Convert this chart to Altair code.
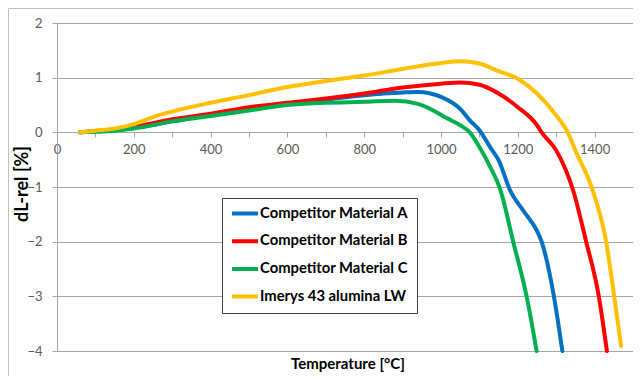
import altair as alt
import pandas as pd

names = ["Competitor Material A", "Competitor Material B", "Competitor Material C", "Imerys 43 alumina LW"]
colors = ["#0070C0", "#FF0000", "#00B050", "#FFC000"]

T_A = [60, 100, 150, 200, 300, 400, 500, 600, 700, 800, 900, 940, 1000, 1050, 1075, 1100, 1128, 1150, 1180, 1214, 1249, 1262, 1294, 1316]
V_A = [0, 0.02, 0.04, 0.08, 0.2, 0.32, 0.42, 0.52, 0.6, 0.68, 0.73, 0.74, 0.65, 0.43, 0.22, 0.04, -0.27, -0.51, -1.06, -1.43, -1.79, -2.0, -3.0, -4.0]

T_B = [60, 100, 150, 200, 300, 400, 500, 600, 700, 800, 900, 1000, 1050, 1100, 1150, 1200, 1250, 1262, 1300, 1344, 1378, 1411, 1432]
V_B = [0, 0.02, 0.05, 0.1, 0.24, 0.34, 0.46, 0.54, 0.62, 0.71, 0.82, 0.89, 0.91, 0.87, 0.71, 0.46, 0.13, 0, -0.33, -1.06, -2.0, -3.0, -4.0]

T_C = [60, 100, 150, 200, 300, 400, 500, 600, 700, 800, 880, 940, 980, 1015, 1050, 1075, 1100, 1128, 1155, 1188, 1223, 1249]
V_C = [0, 0.01, 0.03, 0.07, 0.2, 0.3, 0.4, 0.5, 0.54, 0.56, 0.58, 0.52, 0.40, 0.26, 0.13, 0, -0.27, -0.63, -1.06, -2.0, -3.0, -4.0]

T_D = [60, 100, 150, 200, 250, 300, 400, 500, 600, 700, 800, 900, 1000, 1050, 1100, 1150, 1200, 1250, 1300, 1330, 1350, 1395, 1430, 1451, 1469]
V_D = [0, 0.03, 0.07, 0.15, 0.28, 0.38, 0.54, 0.68, 0.83, 0.94, 1.04, 1.16, 1.27, 1.30, 1.26, 1.12, 0.98, 0.71, 0.31, 0, -0.33, -1.06, -2.0, -3.0, -3.91]

x_ticks = list(range(0, 1501, 100))
y_ticks = [-4, -3, -2, -1, 0, 1, 2]

rows = []
for k, (ts, vs) in enumerate([(T_A, V_A), (T_B, V_B), (T_C, V_C), (T_D, V_D)]):
    for t, v in zip(ts, vs):
        rows.append({"series": names[k], "order": k, "T": t, "v": v})
df = pd.DataFrame(rows)

W, H = 576, 328
PAD_L, PAD_T, PAD_R, PAD_B = 49, 15, 0, 25
FONT = "Lato"
GRID = "#A6A6A6"
LBL = "#595959"

lines = alt.Chart(df).mark_line(strokeWidth=4, interpolate="monotone", strokeCap="round", strokeJoin="round").encode(
    x=alt.X("T:Q", scale=alt.Scale(domain=[0, 1500], nice=False),
            axis=alt.Axis(values=x_ticks, labelExpr="datum.value % 200 == 0 ? datum.label : ''",
                          format="d", grid=False, offset=-219, tickSize=5, tickColor=GRID,
                          domainColor=GRID, labelPadding=6, labelFlush=False, labelFont=FONT,
                          labelFontSize=13, labelColor=LBL, title="Temperature [°C]", titleFont=FONT,
                          titleFontSize=15, titleFontWeight="bold", titleColor="#000000",
                          titleY=231, titleBaseline="middle", titleX=290.5, titleAlign="center")),
    y=alt.Y("v:Q", scale=alt.Scale(domain=[-4, 2], nice=False),
            axis=alt.Axis(values=y_ticks, grid=True, gridColor=GRID, tickSize=5, tickColor=GRID,
                          domainColor=GRID, labelPadding=10, labelFont=FONT, labelFontSize=13,
                          labelColor=LBL, title="dL-rel [%]", titleFont=FONT, titleFontSize=18,
                          titleFontWeight="bold", titleColor="#000000", titleAngle=-90,
                          titleX=-34.5, titleY=160.5, titleAlign="center", titleBaseline="middle")),
    color=alt.Color("series:N", scale=alt.Scale(domain=names, range=colors),
                    legend=alt.Legend(title=None, orient="none", legendX=165, legendY=175,
                                      symbolType="stroke", symbolStrokeWidth=4, symbolSize=676,
                                      clipHeight=15,
                                      labelFont=FONT, labelFontSize=14.8, labelFontWeight="bold",
                                      labelColor="#000000", labelOffset=0, rowPadding=11.7,
                                      padding=8, strokeColor="#404040", fillColor="#FFFFFF",
                                      labelLimit=400)),
    order=alt.Order("order:Q"),
    detail="series:N",
)

border = alt.Chart(pd.DataFrame({"a": [0]})).mark_rule(color="#BFBFBF", strokeWidth=1).encode(
    x=alt.value(-PAD_L + 0.5), y=alt.value(-PAD_T + 0.5), y2=alt.value(H + PAD_B)
)
border_top = alt.Chart(pd.DataFrame({"a": [0]})).mark_rule(color="#BFBFBF", strokeWidth=1).encode(
    x=alt.value(-PAD_L + 0.5), x2=alt.value(W + PAD_R), y=alt.value(-PAD_T + 0.5)
)

chart = alt.layer(border, border_top, lines).properties(
    width=W, height=H,
    padding={"left": PAD_L, "top": PAD_T, "right": PAD_R, "bottom": PAD_B},
    autosize=alt.AutoSizeParams(type="none"),
).configure_view(stroke=None).configure(background="#FFFFFF")

chart.save("out.html", embed_options={"renderer": "svg", "actions": False})
